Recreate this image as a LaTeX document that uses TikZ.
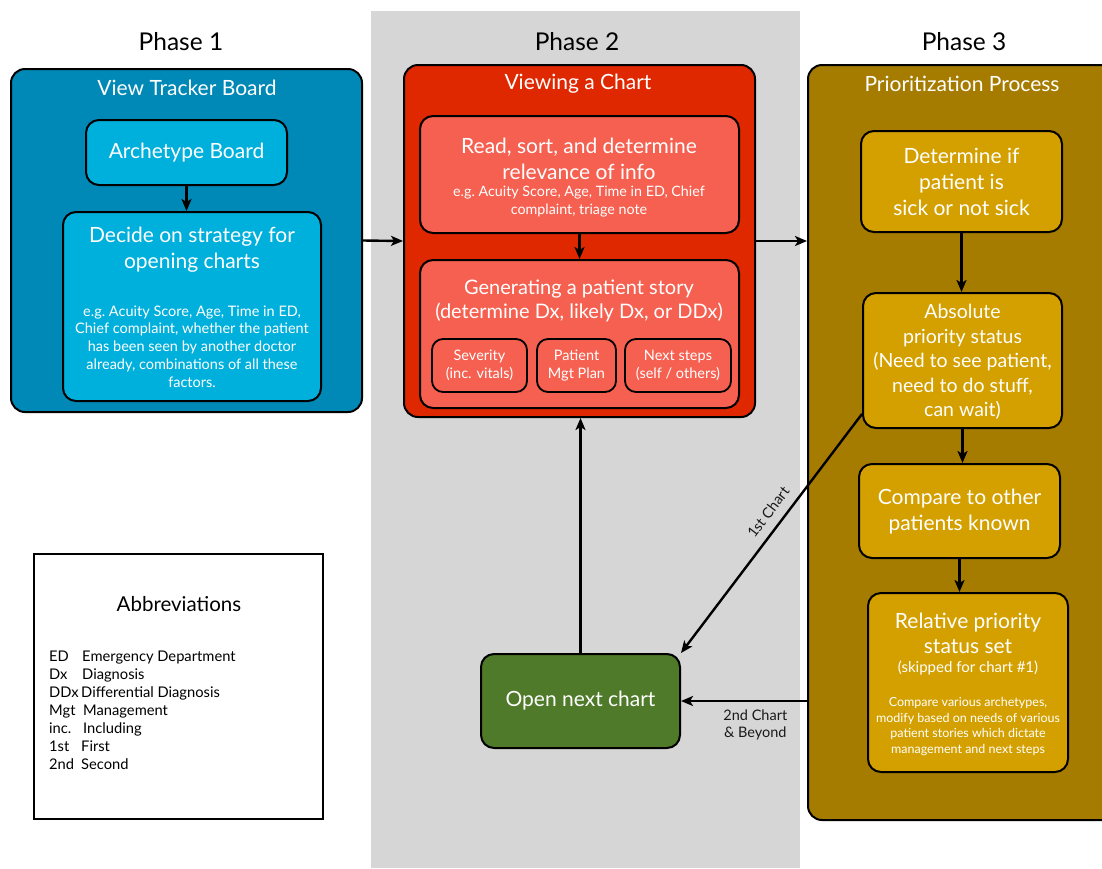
\documentclass[tikz,border=0pt]{standalone}
\usepackage{fontspec}
\setmainfont{Lato}
\usetikzlibrary{arrows.meta}

\definecolor{bandgray}{RGB}{214,214,214}
\definecolor{blueouter}{RGB}{0,137,182}
\definecolor{blueinner}{RGB}{0,176,220}
\definecolor{redouter}{RGB}{224,40,0}
\definecolor{redinner}{RGB}{245,96,80}
\definecolor{goldouter}{RGB}{166,124,0}
\definecolor{goldinner}{RGB}{212,160,0}
\definecolor{greenbox}{RGB}{78,122,42}
\definecolor{inkdark}{RGB}{25,25,25}

\tikzset{
  phasebox/.style={draw=black, line width=2pt, rounded corners=14pt, inner sep=0pt},
  stepbox/.style={draw=black, line width=2pt, rounded corners=13pt, inner sep=0pt},
  subbox/.style={draw=black, line width=1.8pt, rounded corners=11pt, inner sep=0pt},
  phaselabel/.style={font=\fontsize{24.5}{28}\selectfont, text=black},
  boxtitle/.style={font=\fontsize{21}{24}\selectfont, text=white},
  bigtext/.style={font=\fontsize{21}{26}\selectfont, text=white, align=center},
  smalltext/.style={font=\fontsize{14.5}{17.8}\selectfont, text=white, align=center},
  subtext/.style={font=\fontsize{14.5}{18}\selectfont, text=white, align=center},
  flow/.style={line width=2.4pt, draw=black, -{Stealth[length=12pt,width=10pt,inset=3pt]}},
  edgelabel/.style={font=\fontsize{14.5}{17}\selectfont, text=inkdark, align=center},
}

\begin{document}
\begin{tikzpicture}[x=1pt,y=-1pt]
\useasboundingbox (0,0) rectangle (1102,868);

% middle column band
\fill[bandgray] (371,11) rectangle (800,868);

% column headings
\node[phaselabel] (h1) at (181,42) {Phase 1};
\node[phaselabel] (h2) at (577,42) {Phase 2};
\node[phaselabel] (h3) at (964,42) {Phase 3};

% ---------------- Phase 1 ----------------
\node[phasebox, fill=blueouter, minimum width=351pt, minimum height=343pt] (p1) at (186.5,240.5) {};
\node[boxtitle] (t1) at (187,88) {View Tracker Board};
\node[stepbox, fill=blueinner, minimum width=201pt, minimum height=65pt,
      font=\fontsize{21}{24}\selectfont, text=white] (arch) at (186.5,152.5) {Archetype Board};
\node[stepbox, fill=blueinner, minimum width=258pt, minimum height=189pt] (decide) at (192,306.5) {};
\node[bigtext] (decideT) at (192,250) {Decide on strategy for\\opening charts};
\node[smalltext] (decideS) at (192,346.5) {e.g.\ Acuity Score, Age, Time in ED,\\Chief complaint, whether the patient\\has been seen by another doctor\\already, combinations of all these\\factors.};

% ---------------- Phase 2 ----------------
\node[phasebox, fill=redouter, minimum width=351pt, minimum height=352pt] (p2) at (579.5,241) {};
\node[boxtitle] (t2) at (578,84) {Viewing a Chart};
\node[stepbox, fill=redinner, minimum width=319pt, minimum height=117pt] (read) at (579.5,174.5) {};
\node[bigtext] (readT) at (579,159) {Read, sort, and determine\\relevance of info};
\node[smalltext, font=\fontsize{14.3}{18}\selectfont] (readS) at (579,202) {e.g.\ Acuity Score, Age, Time in ED, Chief\\complaint, triage note};
\node[stepbox, fill=redinner, minimum width=319pt, minimum height=148pt] (gen) at (579.5,334) {};
\node[bigtext, font=\fontsize{20}{24}\selectfont] (genT) at (579,301) {Generating a patient story\\(determine Dx, likely Dx, or DDx)};
\node[subbox, fill=redinner, minimum width=95pt, minimum height=53pt, subtext] (sev) at (479.5,365.5) {Severity\\(inc. vitals)};
\node[subbox, fill=redinner, minimum width=79pt, minimum height=53pt, subtext] (pat) at (576.5,365.5) {Patient\\Mgt Plan};
\node[subbox, fill=redinner, minimum width=106pt, minimum height=53pt, subtext] (nxt) at (678,365.5) {Next steps\\(self / others)};

% ---------------- Phase 3 ----------------
\node[phasebox, fill=goldouter, minimum width=312pt, minimum height=755pt] (p3) at (964,442.5) {};
\node[boxtitle] (t3) at (962,84) {Prioritization Process};
\node[stepbox, fill=goldinner, minimum width=201pt, minimum height=101pt] (det) at (961.5,181.5) {};
\node[bigtext] (detT) at (961.5,182) {Determine if\\patient is\\sick or not sick};
\node[stepbox, fill=goldinner, minimum width=199pt, minimum height=135pt] (abs) at (962.5,360.5) {};
\node[bigtext, font=\fontsize{19.5}{24.5}\selectfont] (absT) at (962.5,362) {Absolute\\priority status\\(Need to see patient,\\need to do stuff,\\can wait)};
\node[stepbox, fill=goldinner, minimum width=201pt, minimum height=94pt] (cmp) at (959.5,511) {};
\node[bigtext] (cmpT) at (959.5,512) {Compare to other\\patients known};
\node[stepbox, fill=goldinner, minimum width=200pt, minimum height=179pt] (rel) at (968,682.5) {};
\node[bigtext, font=\fontsize{21}{25}\selectfont] (relT) at (968,633.5) {Relative priority\\status set};
\node[smalltext, font=\fontsize{15}{17}\selectfont] (relN) at (968,668) {(skipped for chart \#1)};
\node[smalltext, font=\fontsize{12.5}{15.7}\selectfont] (relS) at (968,726.5) {Compare various archetypes,\\modify based on needs of various\\patient stories which dictate\\management and next steps};

% ---------------- loop box ----------------
\node[stepbox, fill=greenbox, minimum width=199pt, minimum height=94pt,
      font=\fontsize{21}{24}\selectfont, text=white] (open) at (580.5,701) {Open next chart};

% ---------------- abbreviations ----------------
\node[draw=black, line width=1.6pt, fill=white, minimum width=289pt, minimum height=265pt, inner sep=0pt] (abbr) at (178.5,686.5) {};
\node[font=\fontsize{20.5}{24}\selectfont] (abbrT) at (179,604) {Abbreviations};
\begin{scope}[every node/.style={anchor=base west, font=\fontsize{14.7}{17}\selectfont, inner sep=0pt}]
  \node (a1) at (49,661) {ED};   \node (d1) at (82,661) {Emergency Department};
  \node (a2) at (49,679) {Dx};   \node (d2) at (82,679) {Diagnosis};
  \node (a3) at (49,697) {DDx};  \node (d3) at (81,697) {Differential Diagnosis};
  \node (a4) at (49,715) {Mgt};  \node (d4) at (83,715) {Management};
  \node (a5) at (49,733) {inc.}; \node (d5) at (83,733) {Including};
  \node (a6) at (49,751) {1st};  \node (d6) at (81,751) {First};
  \node (a7) at (49,769) {2nd};  \node (d7) at (81,769) {Second};
\end{scope}

% ---------------- connectors ----------------
\draw[flow] (arch.south) -- (arch.south |- decide.north);
\draw[flow] (read.south) -- (read.south |- gen.north);
\draw[flow] (det.south) -- (det.south |- abs.north);
\draw[flow] (abs.south) -- (abs.south |- cmp.north);
\draw[flow] (cmp.south) -- (cmp.south |- rel.north);

\draw[flow] (p1.east) -- (p2.west);
\draw[flow] (p2.east) -- (p3.west |- p2.east);

\draw[flow] (open.north) -- (open.north |- p2.south);
\draw[flow] (abs.208.6) -- node[edgelabel, sloped, above=9pt, pos=0.45, inner sep=0pt] {1st Chart} (open.north east);
\draw[flow] (p3.west |- open.east) -- node[edgelabel, below=4pt, pos=0.41] {2nd Chart\\\& Beyond} (open.east);
\end{tikzpicture}
\end{document}
